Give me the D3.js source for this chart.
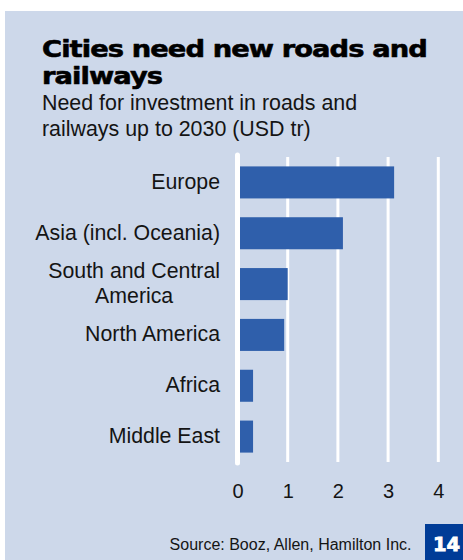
<!DOCTYPE html>
<html>
<head>
<meta charset="utf-8">
<script src="https://cdn.jsdelivr.net/npm/d3@7"></script>
<style>
  html, body { margin: 0; padding: 0; background: #ffffff; }
  svg { display: block; }
  text { font-family: "Liberation Sans", Arial, sans-serif; fill: #141414; }
</style>
</head>
<body>
<svg id="chart" width="463" height="560"></svg>
<script>
// Investment needed in roads and railways up to 2030, USD trillion
const categories = ["Europe", "Asia (incl. Oceania)", "South and Central America", "North America", "Africa", "Middle East"];
const values = [3.12, 2.1, 1.0, 0.93, 0.31, 0.31];
const tickValues = [0, 1, 2, 3, 4];
const titleLines = ["Cities need new roads and", "railways"];
const subtitleLines = ["Need for investment in roads and", "railways up to 2030 (USD tr)"];
const sourceText = "Source: Booz, Allen, Hamilton Inc.";
const pageNumber = "14";

const W = 463, H = 560;
const svg = d3.select("#chart");

// background panel
svg.append("rect")
  .attr("x", 5).attr("y", 11)
  .attr("width", W - 5).attr("height", H - 11)
  .attr("fill", "#cdd8ea");

// title: heavy face, fitted so the first line spans the text column
const titleLeft = 42, titleWidth = 385;
const title = svg.append("text")
  .attr("x", titleLeft).attr("y", 57)
  .style("font-family", "'DejaVu Sans', sans-serif")
  .style("font-weight", "bold")
  .style("font-size", "23.5px")
  .style("letter-spacing", "-0.8px")
  .style("fill", "#000")
  .style("stroke", "#000")
  .style("stroke-width", "0.6px")
  .style("stroke-linejoin", "round");
const titleSpans = title.selectAll("tspan").data(titleLines).join("tspan")
  .attr("x", titleLeft).attr("dy", (d, i) => i === 0 ? 0 : 27)
  .text(d => d);
const firstW = titleSpans.nodes()[0].getComputedTextLength();
const sx = titleWidth / firstW;
title.attr("transform", `translate(${titleLeft},0) scale(${sx},1) translate(${-titleLeft},0)`);

// subtitle
const sub = svg.append("text")
  .attr("x", 42).attr("y", 110)
  .style("font-size", "21.4px");
sub.selectAll("tspan").data(subtitleLines).join("tspan")
  .attr("x", 42).attr("dy", (d, i) => i === 0 ? 0 : 26)
  .text(d => d);

// scales
const x = d3.scaleLinear().domain([0, 4]).range([237.5, 438.3]);
const y = d3.scaleBand().domain(categories).range([157, 462])
  .paddingInner(0.37).paddingOuter(0.185);

// grid lines
svg.append("g").selectAll("line")
  .data(tickValues.filter(t => t !== 0)).join("line")
  .attr("x1", d => x(d)).attr("x2", d => x(d))
  .attr("y1", 157).attr("y2", 462)
  .attr("stroke", "#ffffff").attr("stroke-width", 3);

// bars
svg.append("g").selectAll("rect")
  .data(categories).join("rect")
  .attr("x", x(0))
  .attr("y", d => y(d))
  .attr("width", (d, i) => x(values[i]) - x(0))
  .attr("height", y.bandwidth())
  .attr("fill", "#2f5fab");

// zero baseline
svg.append("line")
  .attr("x1", x(0)).attr("x2", x(0))
  .attr("y1", 155).attr("y2", 463)
  .attr("stroke", "#ffffff").attr("stroke-width", 5)
  .attr("stroke-linecap", "round");

// category labels, wrapped and centred as a block, right-aligned to the axis
const labelRight = 220, maxLabelWidth = 195, labelSize = 21.3, lineGap = 25;
const labels = svg.append("g").style("font-size", labelSize + "px");
categories.forEach(cat => {
  const probe = labels.append("text").attr("x", -1000).attr("y", -1000);
  const words = cat.split(" ");
  const lines = [];
  let line = [];
  words.forEach(w => {
    line.push(w);
    probe.text(line.join(" "));
    if (probe.node().getComputedTextLength() > maxLabelWidth && line.length > 1) {
      line.pop();
      lines.push(line.join(" "));
      line = [w];
    }
  });
  lines.push(line.join(" "));
  const widths = lines.map(l => { probe.text(l); return probe.node().getComputedTextLength(); });
  probe.remove();
  const blockW = d3.max(widths);
  const cx = labelRight - blockW / 2;
  const cy = y(cat) + y.bandwidth() / 2;
  const firstBaseline = cy + 6.5 - (lines.length - 1) * lineGap / 2;
  const t = labels.append("text")
    .attr("text-anchor", lines.length > 1 ? "middle" : "end")
    .attr("y", firstBaseline);
  t.selectAll("tspan").data(lines).join("tspan")
    .attr("x", lines.length > 1 ? cx : labelRight)
    .attr("dy", (d, i) => i === 0 ? 0 : lineGap)
    .text(d => d);
});

// value axis
const axis = d3.axisBottom(x).tickValues(tickValues).tickSize(0).tickPadding(22)
  .tickFormat(d3.format("d"));
const ax = svg.append("g").attr("transform", "translate(0,462)").call(axis);
ax.select(".domain").remove();
ax.selectAll("text")
  .style("font-family", "'Liberation Sans', Arial, sans-serif")
  .style("font-size", "20px")
  .style("fill", "#141414");

// source note
svg.append("text")
  .attr("x", 411.5).attr("y", 550)
  .attr("text-anchor", "end")
  .style("font-size", "16px")
  .text(sourceText);

// page number tab
svg.append("rect")
  .attr("x", 425).attr("y", 524)
  .attr("width", W - 425).attr("height", H - 524)
  .attr("fill", "#003c97");
svg.append("text")
  .attr("x", 446.5).attr("y", 550.5)
  .attr("text-anchor", "middle")
  .style("font-family", "'DejaVu Sans', sans-serif")
  .style("font-weight", "bold")
  .style("font-size", "19.5px")
  .style("fill", "#ffffff")
  .style("stroke", "#ffffff")
  .style("stroke-width", "0.8px")
  .text(pageNumber);
</script>
</body>
</html>
